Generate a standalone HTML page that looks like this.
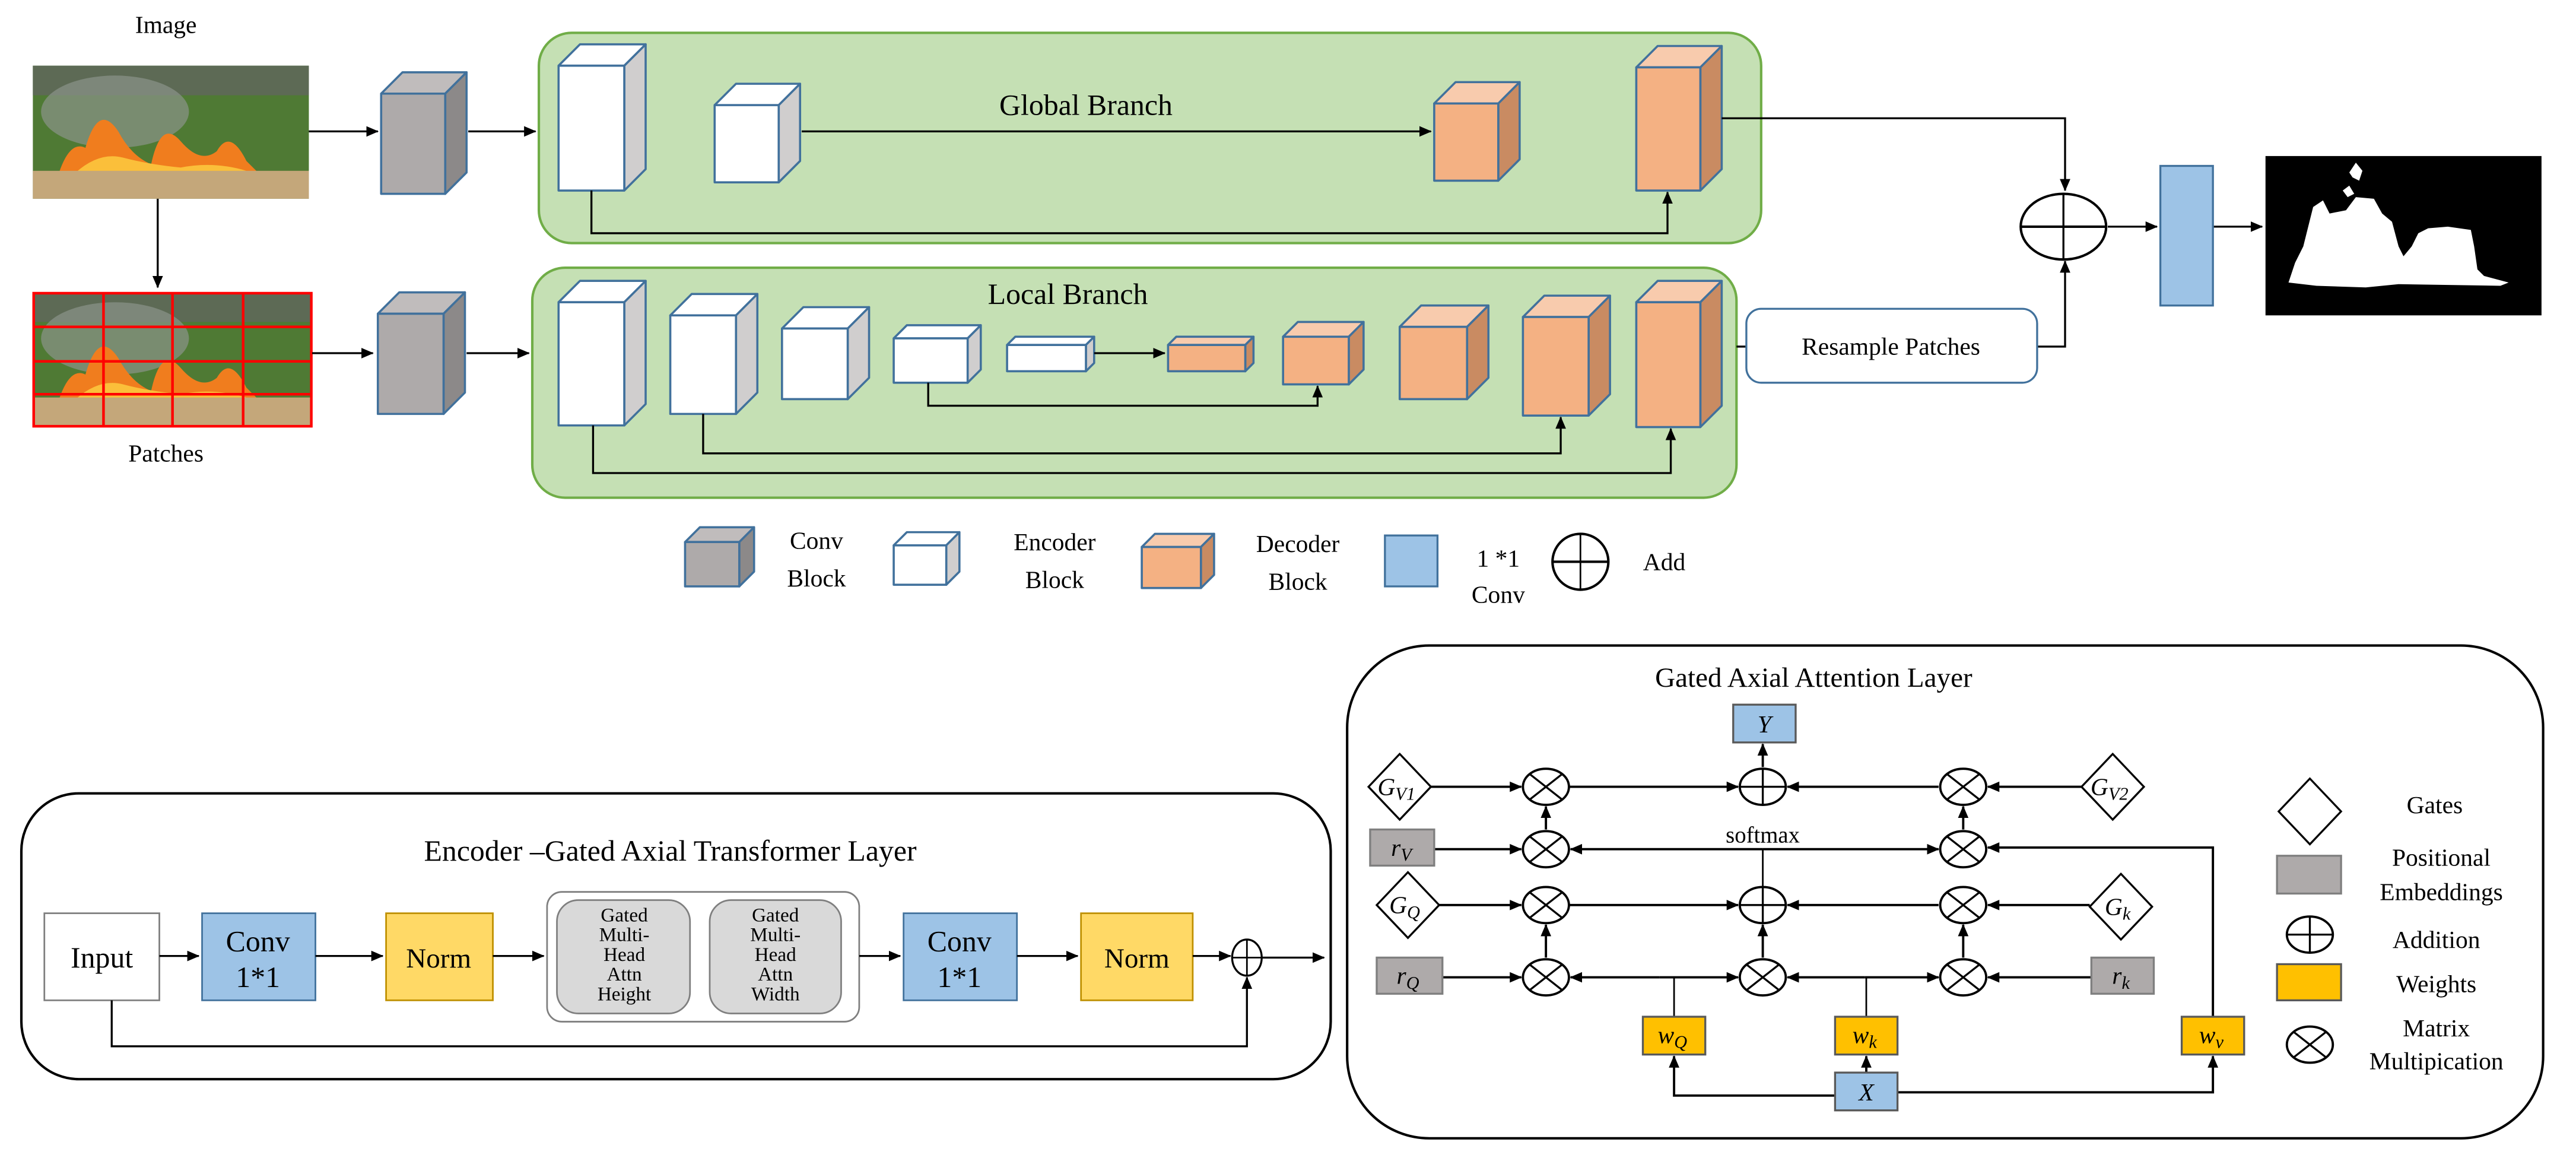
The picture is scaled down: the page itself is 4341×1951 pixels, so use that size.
<!DOCTYPE html>
<html><head><meta charset="utf-8"><style>
html,body{margin:0;padding:0;background:#fff;}
svg{display:block;font-family:"Liberation Serif","DejaVu Serif",serif;}
svg text{font-family:"Liberation Serif","DejaVu Serif",serif;fill:#000;}
</style></head><body>
<svg id="s" width="4341" height="1951" viewBox="0 0 1568 705" preserveAspectRatio="none" xmlns="http://www.w3.org/2000/svg" font-family="Liberation Serif, DejaVu Serif, serif">
<defs>
<marker id="a" markerWidth="8" markerHeight="8" refX="7" refY="4" orient="auto" markerUnits="userSpaceOnUse"><path d="M0,0.8 L7.5,4 L0,7.2 Z" fill="#000"/></marker>
</defs>
<g id="cubes"></g>
<text x="101" y="20" font-size="15" text-anchor="middle">Image</text>
<text x="101" y="281" font-size="15" text-anchor="middle">Patches</text>
<!-- image -->
<g>
<rect x="20" y="40" width="168" height="81" fill="#4f7a34"/>
<rect x="20" y="40" width="168" height="18" fill="#5d6a55"/>
<ellipse cx="70" cy="68" rx="45" ry="22" fill="#8c948a" opacity="0.7"/>
<path d="M35,108 Q42,85 52,90 Q60,62 72,80 Q80,95 92,100 Q98,72 110,86 Q122,100 132,92 Q140,78 150,98 L162,110 Z" fill="#f07d1e"/>
<path d="M45,106 Q60,92 75,96 Q90,100 110,102 Q130,98 150,104 Z" fill="#fbbf3a"/>
<rect x="20" y="104" width="168" height="17" fill="#c4a77a"/>
</g>
<line x1="96" y1="121" x2="96" y2="175" stroke="#000" stroke-width="1.2" marker-end="url(#a)"/>
<g>
<rect x="20" y="178" width="170" height="82" fill="#4f7a34"/>
<rect x="20" y="178" width="170" height="18" fill="#5d6a55"/>
<ellipse cx="70" cy="206" rx="45" ry="22" fill="#8c948a" opacity="0.7"/>
<path d="M35,246 Q42,223 52,228 Q60,200 72,218 Q80,233 92,238 Q98,210 110,224 Q122,238 132,230 Q140,216 150,236 L162,248 Z" fill="#f07d1e"/>
<path d="M45,244 Q60,230 75,234 Q90,238 110,240 Q130,236 150,242 Z" fill="#fbbf3a"/>
<rect x="20" y="242" width="170" height="18" fill="#c4a77a"/>
<g stroke="#f00" stroke-width="1.6" fill="none">
<rect x="20.5" y="178.5" width="169" height="81"/>
<line x1="63" y1="178" x2="63" y2="260"/><line x1="105" y1="178" x2="105" y2="260"/><line x1="148" y1="178" x2="148" y2="260"/>
<line x1="20" y1="199" x2="190" y2="199"/><line x1="20" y1="220" x2="190" y2="220"/><line x1="20" y1="240" x2="190" y2="240"/>
</g>
</g>
<rect x="328" y="20" width="744" height="128" rx="20" fill="#c5e0b4" stroke="#70ad47" stroke-width="1.5"/>
<rect x="324" y="163" width="733" height="140" rx="20" fill="#c5e0b4" stroke="#70ad47" stroke-width="1.5"/>
<text x="661" y="70" font-size="18" text-anchor="middle">Global Branch</text>
<text x="650" y="185" font-size="18" text-anchor="middle">Local Branch</text>
<g id="cubes2"></g>
<g stroke="#000" stroke-width="1.2" fill="none">
<line x1="188" y1="80" x2="230" y2="80" marker-end="url(#a)"/>
<line x1="285" y1="80" x2="326" y2="80" marker-end="url(#a)"/>
<line x1="190" y1="215" x2="227" y2="215" marker-end="url(#a)"/>
<line x1="284" y1="215" x2="322" y2="215" marker-end="url(#a)"/>
<line x1="488" y1="80" x2="871" y2="80" marker-end="url(#a)"/>
<polyline points="360,116 360,142 1015,142 1015,117" marker-end="url(#a)"/>
<line x1="666" y1="215" x2="709" y2="215" marker-end="url(#a)"/>
<polyline points="565,233 565,247 802,247 802,235" marker-end="url(#a)"/>
<polyline points="428,252 428,276 950,276 950,254" marker-end="url(#a)"/>
<polyline points="361,259 361,288 1017,288 1017,261" marker-end="url(#a)"/>
<polyline points="1048,72 1257,72 1257,116" marker-end="url(#a)"/>
<line x1="1057" y1="211" x2="1063" y2="211"/>
<polyline points="1240,211 1257,211 1257,159" marker-end="url(#a)"/>
<line x1="1283" y1="138" x2="1313" y2="138" marker-end="url(#a)"/>
<line x1="1347" y1="138" x2="1377" y2="138" marker-end="url(#a)"/>
</g>
<ellipse cx="1256" cy="138" rx="26" ry="20" fill="none" stroke="#000" stroke-width="1.5"/>
<line x1="1230" y1="138" x2="1282" y2="138" stroke="#000" stroke-width="1.5"/>
<line x1="1256" y1="118" x2="1256" y2="158" stroke="#000" stroke-width="1.2"/>
<rect x="1315" y="101" width="32" height="85" fill="#9dc3e6" stroke="#41719c" stroke-width="1.2"/>
<rect x="1379" y="95" width="168" height="97" fill="#000"/>
<path d="M1393,172 L1397,160 L1402,150 L1408,126 L1414,122 L1418,130 L1428,128 L1434,120 L1445,121 L1450,130 L1456,135 L1460,150 L1463,156 L1468,150 L1472,142 L1478,139 L1490,138 L1504,140 L1506,150 L1508,164 L1512,168 L1527,172 L1522,174 L1460,173 L1440,175 L1410,174 Z" fill="#fff"/>
<path d="M1430,105 L1434,99 L1438,104 L1436,110 L1432,108 Z M1426,116 L1430,113 L1433,118 L1429,120 Z" fill="#fff"/>
<rect x="1063" y="188" width="177" height="45" rx="9" fill="#fff" stroke="#41719c" stroke-width="1.2"/>
<text x="1151" y="216" font-size="15" text-anchor="middle">Resample Patches</text>
<text x="497" y="334" font-size="15" text-anchor="middle">Conv</text>
<text x="497" y="357" font-size="15" text-anchor="middle">Block</text>
<text x="642" y="335" font-size="15" text-anchor="middle">Encoder</text>
<text x="642" y="358" font-size="15" text-anchor="middle">Block</text>
<text x="790" y="336" font-size="15" text-anchor="middle">Decoder</text>
<text x="790" y="359" font-size="15" text-anchor="middle">Block</text>
<rect x="843" y="326" width="32" height="31" fill="#9dc3e6" stroke="#41719c" stroke-width="1.2"/>
<text x="912" y="345" font-size="15" text-anchor="middle">1 *1</text>
<text x="912" y="367" font-size="15" text-anchor="middle">Conv</text>
<ellipse cx="962" cy="342" rx="17" ry="17" fill="none" stroke="#000" stroke-width="1.5"/>
<line x1="945" y1="342" x2="979" y2="342" stroke="#000" stroke-width="1.5"/>
<line x1="962" y1="325" x2="962" y2="359" stroke="#000" stroke-width="1"/>
<text x="1013" y="347" font-size="15" text-anchor="middle">Add</text>

<rect x="13" y="483" width="797" height="174" rx="35" fill="#fff" stroke="#000" stroke-width="1.5"/>
<text x="408" y="524" font-size="18" text-anchor="middle">Encoder –Gated Axial Transformer Layer</text>
<rect x="27" y="556" width="70" height="53" fill="#fff" stroke="#7f7f7f" stroke-width="1"/>
<text x="62" y="589" font-size="18" text-anchor="middle">Input</text>
<rect x="123" y="556" width="69" height="53" fill="#9dc3e6" stroke="#41719c" stroke-width="1"/>
<text x="157" y="579" font-size="18" text-anchor="middle">Conv</text><text x="157" y="601" font-size="18" text-anchor="middle">1*1</text>
<rect x="235" y="556" width="65" height="53" fill="#ffd966" stroke="#bf9000" stroke-width="1"/>
<text x="267" y="589" font-size="17" text-anchor="middle">Norm</text>
<rect x="333" y="543" width="190" height="79" rx="9" fill="#fff" stroke="#7f7f7f" stroke-width="1"/>
<rect x="339" y="548" width="81" height="69" rx="13" fill="#d9d9d9" stroke="#7f7f7f" stroke-width="1"/>
<rect x="432" y="548" width="80" height="69" rx="13" fill="#d9d9d9" stroke="#7f7f7f" stroke-width="1"/>
<g font-size="12" text-anchor="middle">
<text x="380" y="561" font-size="12">Gated</text><text x="380" y="573" font-size="12">Multi-</text><text x="380" y="585" font-size="12">Head</text><text x="380" y="597" font-size="12">Attn</text><text x="380" y="609" font-size="12">Height</text>
<text x="472" y="561" font-size="12">Gated</text><text x="472" y="573" font-size="12">Multi-</text><text x="472" y="585" font-size="12">Head</text><text x="472" y="597" font-size="12">Attn</text><text x="472" y="609" font-size="12">Width</text>
</g>
<rect x="550" y="556" width="69" height="53" fill="#9dc3e6" stroke="#41719c" stroke-width="1"/>
<text x="584" y="579" font-size="18" text-anchor="middle">Conv</text><text x="584" y="601" font-size="18" text-anchor="middle">1*1</text>
<rect x="658" y="556" width="68" height="53" fill="#ffd966" stroke="#bf9000" stroke-width="1"/>
<text x="692" y="589" font-size="17" text-anchor="middle">Norm</text>
<ellipse cx="759" cy="583" rx="9" ry="11" fill="#fff" stroke="#000" stroke-width="1.2"/>
<line x1="750" y1="583" x2="768" y2="583" stroke="#000" stroke-width="1"/><line x1="759" y1="572" x2="759" y2="594" stroke="#000" stroke-width="1"/>
<g stroke="#000" stroke-width="1.2" fill="none">
<line x1="97" y1="582" x2="121" y2="582" marker-end="url(#a)"/>
<line x1="192" y1="582" x2="233" y2="582" marker-end="url(#a)"/>
<line x1="300" y1="582" x2="331" y2="582" marker-end="url(#a)"/>
<line x1="523" y1="582" x2="548" y2="582" marker-end="url(#a)"/>
<line x1="619" y1="582" x2="656" y2="582" marker-end="url(#a)"/>
<line x1="726" y1="582" x2="749" y2="582" marker-end="url(#a)"/>
<line x1="768" y1="583" x2="806" y2="583" marker-end="url(#a)"/>
<polyline points="68,609 68,637 759,637 759,595" marker-end="url(#a)"/>
</g>

<rect x="820" y="393" width="728" height="300" rx="50" fill="#fff" stroke="#000" stroke-width="1.5"/>
<text x="1104" y="418" font-size="17" text-anchor="middle">Gated Axial Attention Layer</text>
<rect x="1055" y="429" width="38" height="23" fill="#9dc3e6" stroke="#595959" stroke-width="1.2"/>
<text x="1074" y="446" font-size="15" font-style="italic" text-anchor="middle">Y</text>
<text x="1073" y="513" font-size="14" text-anchor="middle">softmax</text>
<g stroke="#000" stroke-width="1.4" fill="none">
<line x1="871" y1="479" x2="926" y2="479" marker-end="url(#a)"/>
<line x1="955" y1="479" x2="1058" y2="479" marker-end="url(#a)"/>
<line x1="1180" y1="479" x2="1088" y2="479" marker-end="url(#a)"/>
<line x1="1267" y1="479" x2="1210" y2="479" marker-end="url(#a)"/>
<line x1="1073" y1="467" x2="1073" y2="453" marker-end="url(#a)"/>
<line x1="873" y1="517" x2="926" y2="517" marker-end="url(#a)"/>
<line x1="1073" y1="517" x2="956" y2="517" marker-end="url(#a)"/>
<line x1="1073" y1="517" x2="1180" y2="517" marker-end="url(#a)"/>
<polyline points="1347,619 1347,516 1210,516" marker-end="url(#a)"/>
<line x1="1073" y1="540" x2="1073" y2="517" stroke-width="1"/>
<line x1="941" y1="505" x2="941" y2="491" marker-end="url(#a)"/>
<line x1="1195" y1="505" x2="1195" y2="491" marker-end="url(#a)"/>
<line x1="876" y1="551" x2="926" y2="551" marker-end="url(#a)"/>
<line x1="955" y1="551" x2="1058" y2="551" marker-end="url(#a)"/>
<line x1="1180" y1="551" x2="1088" y2="551" marker-end="url(#a)"/>
<line x1="1272" y1="551" x2="1210" y2="551" marker-end="url(#a)"/>
<line x1="941" y1="583" x2="941" y2="563" marker-end="url(#a)"/>
<line x1="1073" y1="583" x2="1073" y2="563" marker-end="url(#a)"/>
<line x1="1195" y1="583" x2="1195" y2="563" marker-end="url(#a)"/>
<line x1="878" y1="595" x2="926" y2="595" marker-end="url(#a)"/>
<line x1="1010" y1="595" x2="956" y2="595" marker-end="url(#a)"/>
<line x1="1010" y1="595" x2="1058" y2="595" marker-end="url(#a)"/>
<line x1="1135" y1="595" x2="1088" y2="595" marker-end="url(#a)"/>
<line x1="1135" y1="595" x2="1180" y2="595" marker-end="url(#a)"/>
<line x1="1273" y1="595" x2="1210" y2="595" marker-end="url(#a)"/>
<line x1="1019" y1="619" x2="1019" y2="595" stroke-width="1"/>
<line x1="1136" y1="619" x2="1136" y2="595" stroke-width="1"/>
<line x1="1136" y1="653" x2="1136" y2="643" marker-end="url(#a)"/>
<polyline points="1117,667 1019,667 1019,643" marker-end="url(#a)"/>
<polyline points="1155,665 1347,665 1347,643" marker-end="url(#a)"/>
</g>
<g id="ops"></g>
<g fill="#fff" stroke="#000" stroke-width="1.2">
<polygon points="852,459 871,479 852,499 833,479"/>
<polygon points="1286,459 1305,479 1286,499 1267,479"/>
<polygon points="857,531 876,551 857,571 838,551"/>
<polygon points="1291,532 1310,552 1291,572 1272,552"/>
<polygon points="1406,474 1425,494 1406,514 1387,494"/>
</g>
<g font-size="15" font-style="italic" text-anchor="middle">
<text x="850" y="484">G<tspan font-size="11" dy="3">V1</tspan></text>
<text x="1284" y="484">G<tspan font-size="11" dy="3">V2</tspan></text>
<text x="855" y="556">G<tspan font-size="11" dy="3">Q</tspan></text>
<text x="1289" y="557">G<tspan font-size="11" dy="3">k</tspan></text>
</g>
<g stroke="#7f7f7f" stroke-width="1.2">
<rect x="834" y="505" width="39" height="22" fill="#aeaaaa"/>
<rect x="838" y="583" width="40" height="22" fill="#aeaaaa"/>
<rect x="1273" y="583" width="38" height="22" fill="#aeaaaa"/>
<rect x="1386" y="521" width="39" height="23" fill="#aeaaaa"/>
</g>
<g stroke="#595959" stroke-width="1.2" fill="#ffc000">
<rect x="1000" y="619" width="38" height="23"/>
<rect x="1117" y="619" width="38" height="23"/>
<rect x="1328" y="619" width="38" height="23"/>
<rect x="1386" y="587" width="39" height="22"/>
</g>
<rect x="1117" y="653" width="38" height="23" fill="#9dc3e6" stroke="#595959" stroke-width="1.2"/>
<g font-size="15" font-style="italic" text-anchor="middle">
<text x="853" y="521">r<tspan font-size="11" dy="3">V</tspan></text>
<text x="857" y="599">r<tspan font-size="11" dy="3">Q</tspan></text>
<text x="1291" y="599">r<tspan font-size="11" dy="3">k</tspan></text>
<text x="1018" y="635">w<tspan font-size="11" dy="3">Q</tspan></text>
<text x="1135" y="635">w<tspan font-size="11" dy="3">k</tspan></text>
<text x="1346" y="635">w<tspan font-size="11" dy="3">v</tspan></text>
<text x="1136" y="670">X</text>
</g>
<g font-size="15" text-anchor="middle">
<text x="1482" y="495">Gates</text>
<text x="1486" y="527">Positional</text>
<text x="1486" y="548">Embeddings</text>
<text x="1483" y="577">Addition</text>
<text x="1483" y="604">Weights</text>
<text x="1483" y="631">Matrix</text>
<text x="1483" y="651">Multipication</text>
</g>
</svg>
<script>
var NS="http://www.w3.org/2000/svg";
function el(g,t,a){var e=document.createElementNS(NS,t);for(var k in a)e.setAttribute(k,a[k]);g.appendChild(e);return e;}
var C={e:["#ffffff","#ffffff","#d0cece"],c:["#aeaaaa","#c0bcbc","#8c8989"],d:["#f4b183","#f8cbad","#c98b62"]};
function cube(g,x,y,w,h,d,t){var c=C[t],s={stroke:"#41719c","stroke-width":1.3,"stroke-linejoin":"round"};
var p=function(pts,f){var a={points:pts,fill:f};for(var k in s)a[k]=s[k];el(g,"polygon",a);};
p([x,y,x+d,y-d,x+w+d,y-d,x+w,y].join(","),c[1]);
p([x+w,y,x+w+d,y-d,x+w+d,y+h-d,x+w,y+h].join(","),c[2]);
var a={x:x,y:y,width:w,height:h,fill:c[0]};for(var k in s)a[k]=s[k];el(g,"rect",a);}
var g1=document.getElementById("cubes"),g2=document.getElementById("cubes2");
cube(g1,232,57,39,61,13,"c");
cube(g1,230,191,40,61,13,"c");
cube(g2,340,40,40,76,13,"e");
cube(g2,435,64,39,47,13,"e");
cube(g2,873,63,39,47,13,"d");
cube(g2,996,41,39,75,13,"d");
cube(g2,340,184,40,75,13,"e");
cube(g2,408,192,40,60,13,"e");
cube(g2,476,200,40,43,13,"e");
cube(g2,544,206,45,27,8,"e");
cube(g2,613,210,48,16,5,"e");
cube(g2,711,210,47,16,5,"d");
cube(g2,781,205,40,29,9,"d");
cube(g2,852,199,41,44,13,"d");
cube(g2,927,193,40,60,13,"d");
cube(g2,996,184,39,76,13,"d");
cube(g2,417,330,33,27,9,"c");
cube(g2,544,332,32,24,8,"e");
cube(g2,695,333,36,25,8,"d");
var o=document.getElementById("ops");
function op(x,y,rx,ry,t){el(o,"ellipse",{cx:x,cy:y,rx:rx,ry:ry,fill:"#fff",stroke:"#000","stroke-width":1.4});
if(t=="+"){el(o,"line",{x1:x-rx,y1:y,x2:x+rx,y2:y,stroke:"#000","stroke-width":1.2});el(o,"line",{x1:x,y1:y-ry,x2:x,y2:y+ry,stroke:"#000","stroke-width":1.2});}
else{var dx=rx*0.7,dy=ry*0.7;el(o,"line",{x1:x-dx,y1:y-dy,x2:x+dx,y2:y+dy,stroke:"#000","stroke-width":1.2});el(o,"line",{x1:x-dx,y1:y+dy,x2:x+dx,y2:y-dy,stroke:"#000","stroke-width":1.2});}}
op(941,479,14,11,"x");op(1073,479,14,11,"+");op(1195,479,14,11,"x");
op(941,517,14,11,"x");op(1195,517,14,11,"x");
op(941,551,14,11,"x");op(1073,551,14,11,"+");op(1195,551,14,11,"x");
op(941,595,14,11,"x");op(1073,595,14,11,"x");op(1195,595,14,11,"x");
op(1406,569,14,11,"+");op(1406,636,14,11,"x");
</script>
</body></html>
